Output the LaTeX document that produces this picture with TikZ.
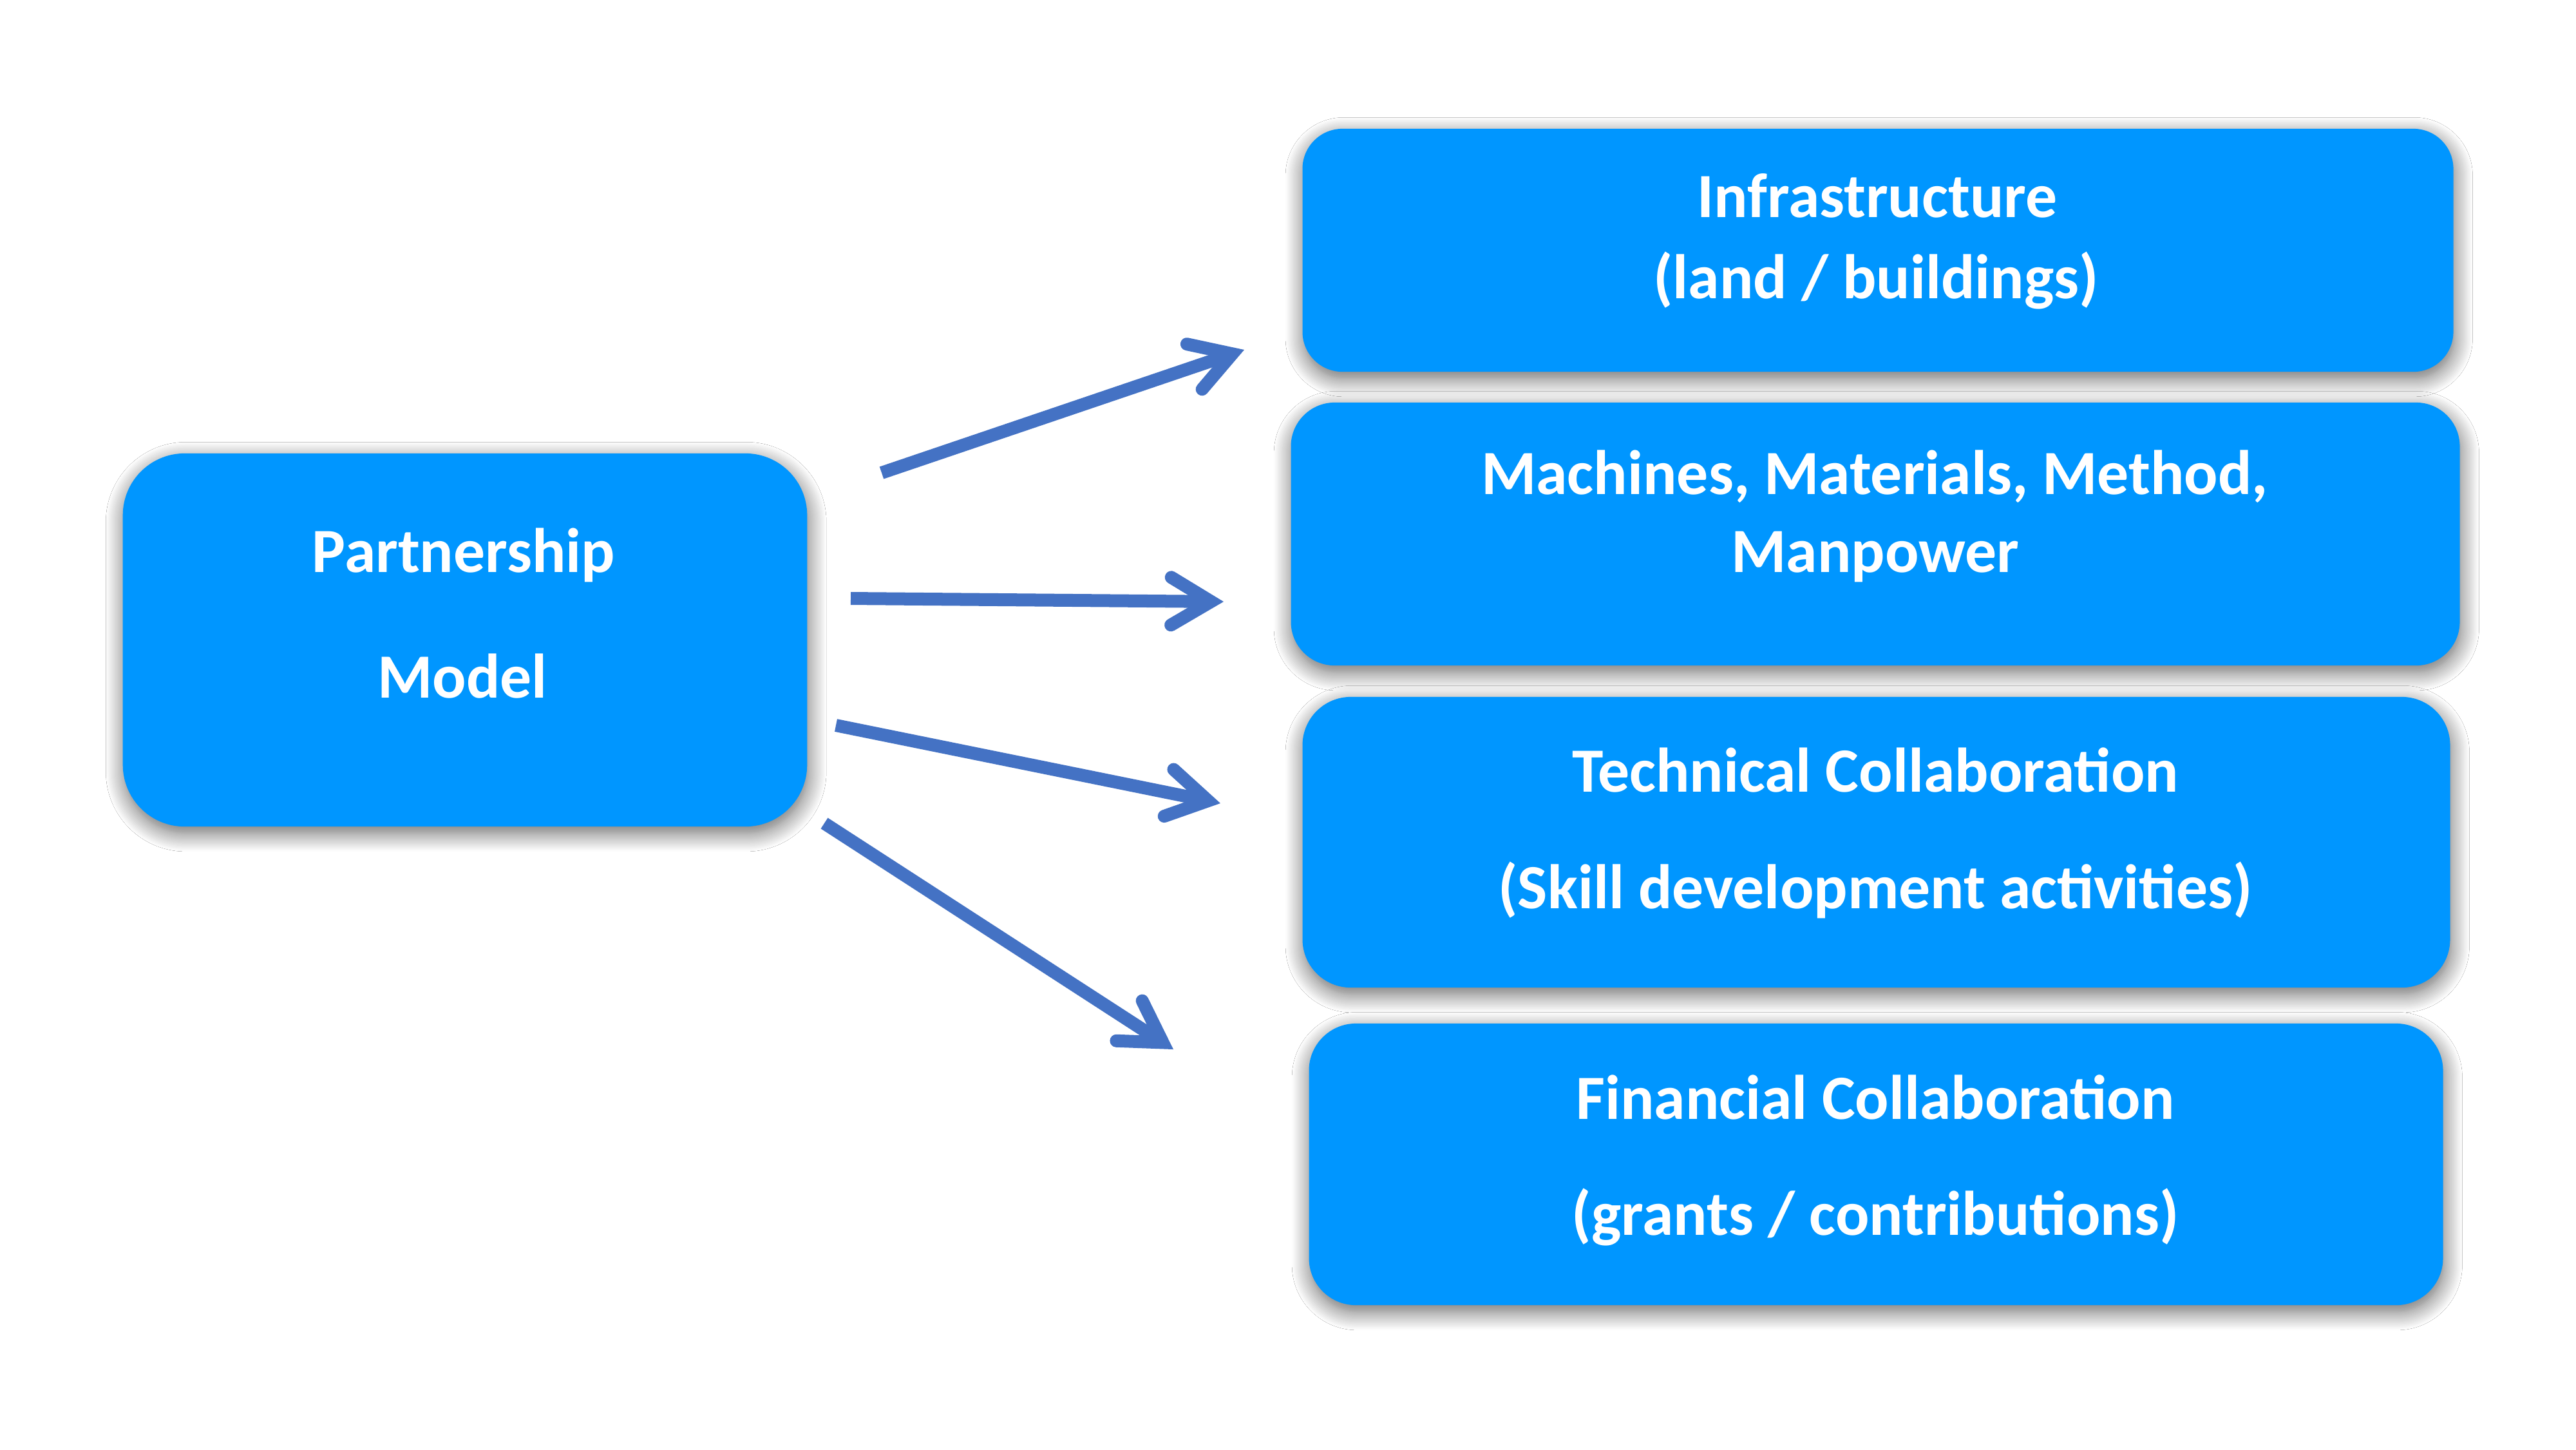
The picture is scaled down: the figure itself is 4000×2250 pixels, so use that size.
\documentclass[tikz,border=0pt]{standalone}
\usepackage{fontspec}
\setmainfont{Carlito}
\usetikzlibrary{arrows.meta,shadows.blur}
\definecolor{boxblue}{RGB}{0,150,255}
\definecolor{arrowblue}{RGB}{68,114,196}
\begin{document}
\begin{tikzpicture}[x=0.01cm,y=-0.01cm,
  box/.style={rectangle, fill=boxblue, draw=none, inner sep=0pt,
    blur shadow={shadow xshift=0.5pt, shadow yshift=-3pt, shadow blur radius=8pt, shadow blur steps=14, shadow opacity=60}},
  lbl/.style={anchor=base, inner sep=0pt, text=white, font=\fontsize{27.8pt}{33pt}\selectfont\bfseries},
  conn/.style={draw=arrowblue, line width=0.2cm,
    -{Straight Barb[length=0.62cm,width=0.74cm,line cap=round,line join=miter]}}]
\fill[white] (0,0) rectangle (4000,2250);
\useasboundingbox (0,0) rectangle (4000,2250);

% boxes
\node[box, minimum width=10.62cm, minimum height=5.79cm, rounded corners=0.96cm] (part) at (722,993.5) {};
\node[box, minimum width=17.86cm, minimum height=3.77cm, rounded corners=0.62cm] (infra) at (2916,388.5) {};
\node[box, minimum width=18.14cm, minimum height=4.08cm, rounded corners=0.68cm] (mach) at (2912,829) {};
\node[box, minimum width=17.81cm, minimum height=4.51cm, rounded corners=0.75cm] (tech) at (2913.5,1307.5) {};
\node[box, minimum width=17.60cm, minimum height=4.37cm, rounded corners=0.73cm] (fin) at (2913,1807.5) {};

% labels
\node[lbl] (partA) at (720,888) {Partnership};
\node[lbl] (partB) at (718,1083) {Model};
\node[lbl] (infraA) at (2915,337) {Infrastructure};
\node[lbl] (infraB) at (2913,463) {(land / buildings)};
\node[lbl] (machA) at (2911,767) {Machines, Materials, Method,};
\node[lbl] (machB) at (2912,888) {Manpower};
\node[lbl] (techA) at (2912,1229) {Technical Collaboration};
\node[lbl] (techB) at (2912,1410) {(Skill development activities)};
\node[lbl] (finA) at (2912,1737) {Financial Collaboration};
\node[lbl] (finB) at (2912,1917) {(grants / contributions)};

% connector ends
\coordinate (s1) at (1369,734);  \coordinate (e1) at (1932,543);
\coordinate (s2) at (1321,929);  \coordinate (e2) at (1900,934);
\coordinate (s3) at (1298,1126); \coordinate (e3) at (1895,1247);
\coordinate (s4) at (1280,1278); \coordinate (e4) at (1822,1629);

\draw[conn] (s1) -- (e1);
\draw[conn] (s2) -- (e2);
\draw[conn] (s3) -- (e3);
\draw[conn] (s4) -- (e4);
\end{tikzpicture}
\end{document}
